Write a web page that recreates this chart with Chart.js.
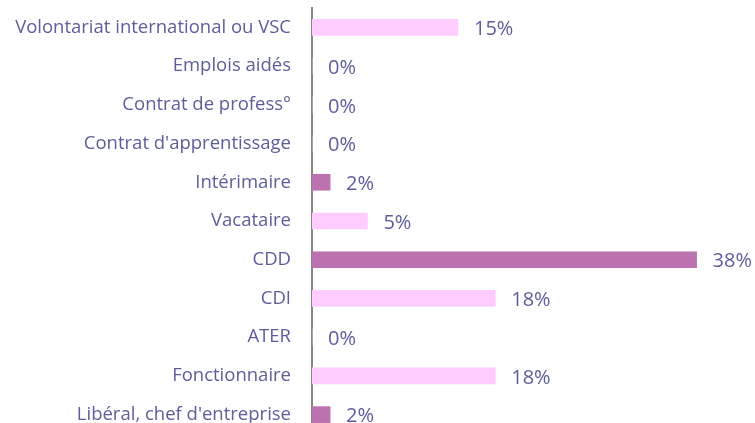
<!DOCTYPE html>
<html>
<head>
<meta charset="utf-8">
<script src="https://cdn.jsdelivr.net/npm/chart.js@4/dist/chart.umd.min.js"></script>
<style>
  html, body { margin: 0; padding: 0; background: #fff; overflow: hidden; }
  #wrap { width: 755px; height: 423px; overflow: hidden; }
</style>
</head>
<body>
<div id="wrap"><canvas id="contrats" width="755" height="434"></canvas></div>
<script>
// situation values (%)
var categories = [
    "Volontariat international ou VSC",
    "Emplois aidés",
    "Contrat de profess°",
    "Contrat d'apprentissage",
    "Intérimaire",
    "Vacataire",
    "CDD",
    "CDI",
    "ATER",
    "Fonctionnaire",
    "Libéral, chef d'entreprise"
];
var percents = [14.5, 0, 0, 0, 1.8, 5.5, 38.2, 18.2, 0, 18.2, 1.8];
var shownLabels = ["15%", "0%", "0%", "0%", "2%", "5%", "38%", "18%", "0%", "18%", "2%"];
var highlighted = ["Intérimaire", "CDD", "Libéral, chef d'entreprise"];

var textColor = "#5d5d9c";
var lightPink = "#ffccff";
var mauve = "#bc72ae";

var barLabels = {
    id: "barLabels",
    afterDatasetsDraw: function (chart) {
        var ctx = chart.ctx;
        var meta = chart.getDatasetMeta(0);
        ctx.save();
        ctx.font = "20px 'Open Sans', sans-serif";
        ctx.fillStyle = textColor;
        ctx.textAlign = "left";
        ctx.textBaseline = "middle";
        meta.data.forEach(function (bar, i) {
            ctx.fillText(shownLabels[i], bar.x + 16, bar.y + 2);
        });
        ctx.restore();
    }
};

new Chart(document.getElementById("contrats"), {
    type: "bar",
    data: {
        labels: categories,
        datasets: [
            {
                data: percents,
                backgroundColor: categories.map(function (c) {
                    return highlighted.indexOf(c) >= 0 ? mauve : lightPink;
                }),
                borderWidth: 0,
                barThickness: 16
            }
        ]
    },
    options: {
        indexAxis: "y",
        responsive: false,
        animation: false,
        layout: { padding: { top: 8, right: 0, bottom: 0, left: 0 } },
        plugins: {
            legend: { display: false },
            tooltip: { enabled: false }
        },
        scales: {
            x: {
                display: false,
                min: 0,
                max: 44
            },
            y: {
                afterFit: function (scale) {
                    scale.width = 312;
                    scale.paddingTop = 0;
                    scale.paddingBottom = 0;
                },
                grid: { display: false },
                border: { display: true, color: "#868686", width: 2 },
                ticks: {
                    color: textColor,
                    padding: 13,
                    font: { family: "'Open Sans', sans-serif", size: 18.5 }
                }
            }
        }
    },
    plugins: [barLabels]
});
</script>
</body>
</html>
